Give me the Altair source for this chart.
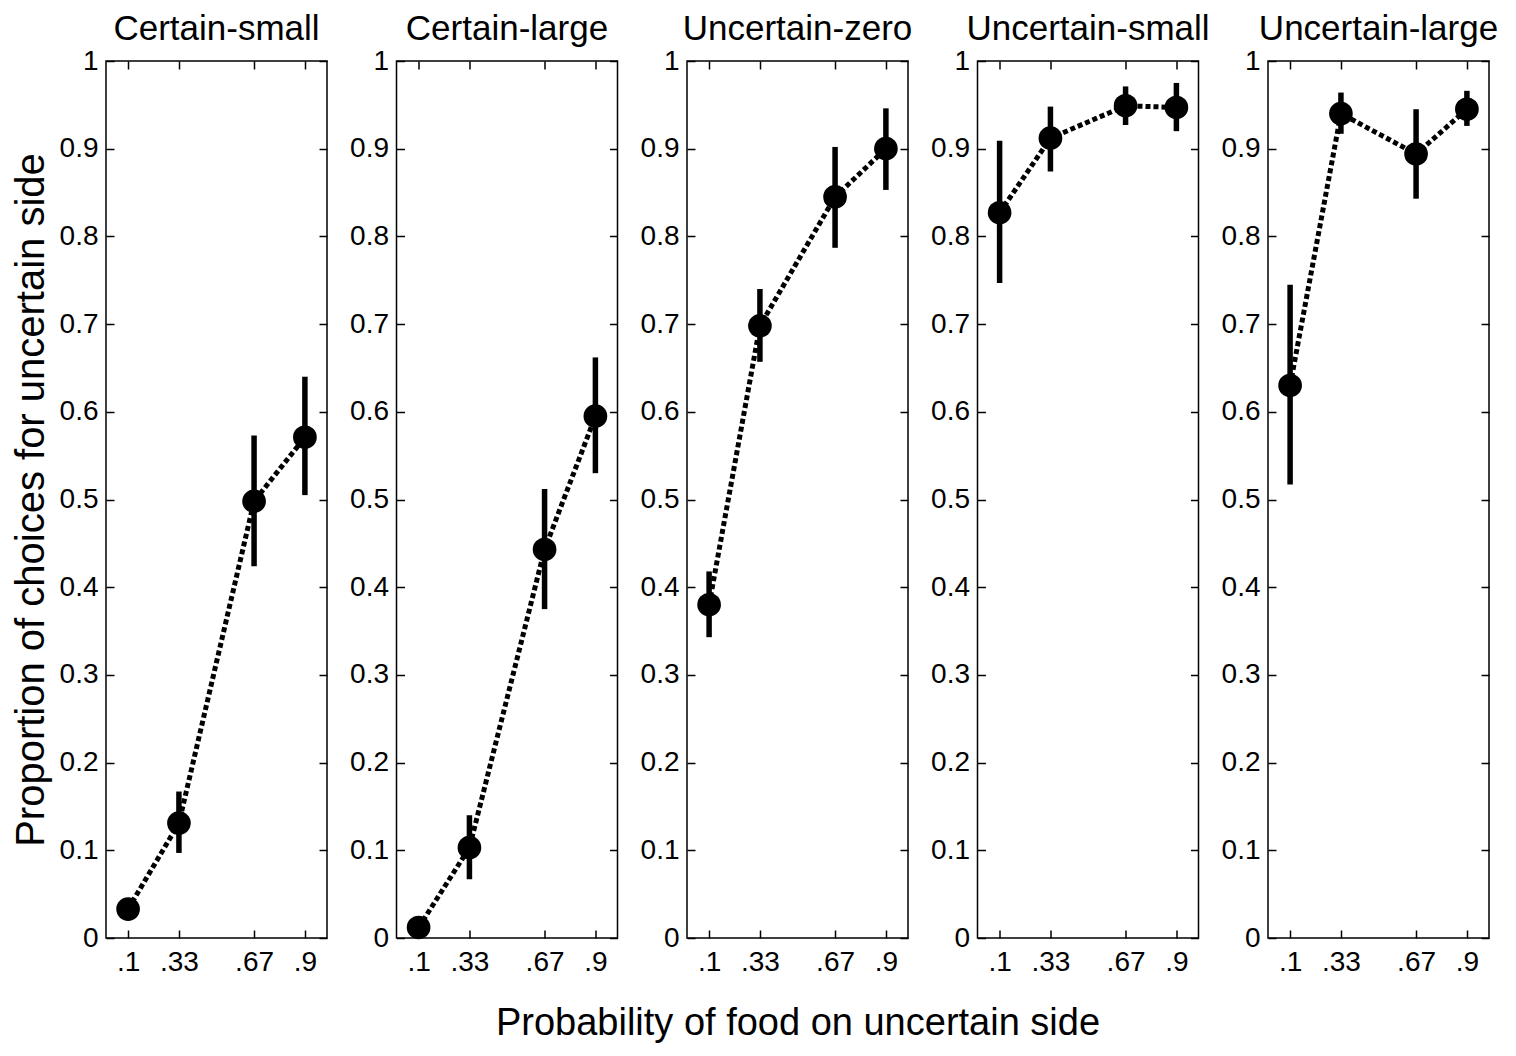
import altair as alt
import pandas as pd

# ---- data ----
titles = ["Certain-small", "Certain-large", "Uncertain-zero", "Uncertain-small", "Uncertain-large"]
x_vals = [0.1, 0.33, 0.67, 0.9]
x_labels = [".1", ".33", ".67", ".9"]
y_ticks = [0, 0.1, 0.2, 0.3, 0.4, 0.5, 0.6, 0.7, 0.8, 0.9, 1.0]

means = [
    [0.033, 0.131, 0.498, 0.571],
    [0.012, 0.103, 0.443, 0.595],
    [0.380, 0.698, 0.845, 0.900],
    [0.827, 0.912, 0.949, 0.947],
    [0.630, 0.940, 0.894, 0.945],
]
lows = [
    [0.026, 0.097, 0.424, 0.505],
    [0.006, 0.067, 0.375, 0.530],
    [0.343, 0.657, 0.787, 0.853],
    [0.747, 0.874, 0.927, 0.920],
    [0.517, 0.917, 0.843, 0.926],
]
highs = [
    [0.040, 0.167, 0.573, 0.640],
    [0.018, 0.140, 0.512, 0.662],
    [0.418, 0.740, 0.902, 0.946],
    [0.909, 0.948, 0.971, 0.975],
    [0.745, 0.964, 0.945, 0.966],
]

y_title = "Proportion of choices for uncertain side"
x_title = "Probability of food on uncertain side"

W = 221
H = 877
FONT = "Liberation Sans"
TICK = 8
INWARD = {"expr": f"-{TICK}"}

label_expr = " : ".join(
    f"datum.value == {v} ? '{l}'" for v, l in zip(x_vals, x_labels)
) + " : ''"


def panel(i):
    df = pd.DataFrame({"x": x_vals, "y": means[i], "lo": lows[i], "hi": highs[i]})
    base = alt.Chart(df)
    xsc = alt.Scale(domain=[0, 1], nice=False, zero=False)
    ysc = alt.Scale(domain=[0, 1], nice=False, zero=False)

    line = base.mark_line(color="black", strokeWidth=5, strokeDash=[5, 3]).encode(
        x=alt.X("x:Q", scale=xsc, axis=alt.Axis(
            orient="bottom", values=x_vals, labelExpr=label_expr,
            tickSize=INWARD, tickColor="black", tickWidth=1.5,
            domain=False, grid=False, labelPadding=TICK + 10,
            labelFontSize=28, labelFont=FONT, labelColor="black",
            title=x_title if i == 2 else None, titleFontSize=38,
            titleFont=FONT, titleFontWeight="normal", titleColor="black",
            titlePadding=28)),
        y=alt.Y("y:Q", scale=ysc, axis=alt.Axis(
            orient="left", values=y_ticks, format=".1~f",
            tickSize=INWARD, tickColor="black", tickWidth=1.5,
            domain=False, grid=False, labelPadding=TICK + 8,
            labelFontSize=28, labelFont=FONT, labelColor="black",
            title=y_title if i == 0 else None, titleFontSize=40,
            titleFont=FONT, titleFontWeight="normal", titleColor="black",
            titlePadding=8)),
    )
    err = base.mark_rule(color="black", strokeWidth=5.5).encode(
        x=alt.X("x:Q", scale=xsc, axis=alt.Axis(
            orient="top", values=x_vals, labels=False, domain=False,
            grid=False, title=None, tickSize=INWARD, tickColor="black", tickWidth=1.5)),
        y=alt.Y("lo:Q", scale=ysc, axis=alt.Axis(
            orient="right", values=y_ticks, labels=False, domain=False,
            grid=False, title=None, tickSize=INWARD, tickColor="black", tickWidth=1.5)),
        y2="hi:Q",
    )
    pts = base.mark_circle(size=560, color="black", opacity=1).encode(
        x=alt.X("x:Q", scale=xsc, axis=None),
        y=alt.Y("y:Q", scale=ysc, axis=None),
    )
    return (
        alt.layer(line, err, pts)
        .resolve_scale(x="independent", y="independent")
        .properties(
            width=W, height=H,
            title=alt.TitleParams(titles[i], fontSize=35, font=FONT,
                                  fontWeight="normal", color="black", offset=0),
        )
    )


chart = (
    alt.hconcat(*[panel(i) for i in range(5)], spacing=69.5, bounds="flush")
    .properties(padding={"left": 2, "top": 3, "right": 0, "bottom": 0})
    .configure_view(stroke="black", strokeWidth=1.5)
)

chart.save("out.html", embed_options={"renderer": "svg", "actions": False})
